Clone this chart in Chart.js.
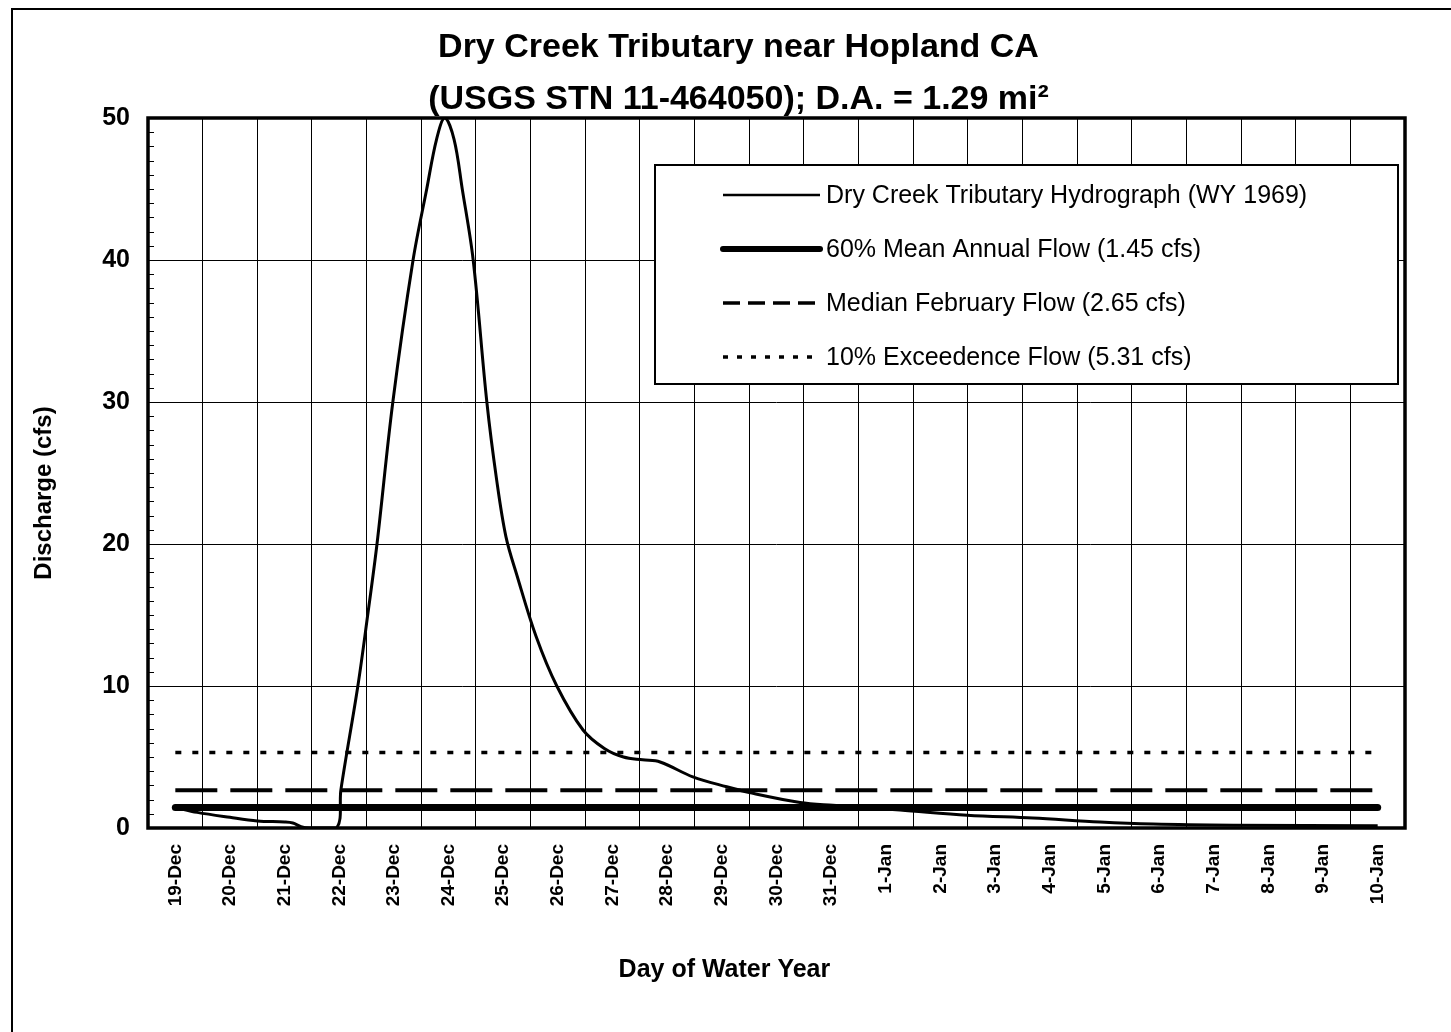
<!DOCTYPE html>
<html>
<head>
<meta charset="utf-8">
<script src="https://cdn.jsdelivr.net/npm/chart.js@4/dist/chart.umd.min.js"></script>
<style>
  html, body { margin: 0; padding: 0; background: #fff; }
  #wrap { width: 1451px; height: 1032px; }
</style>
</head>
<body>
<div id="wrap"><canvas id="chart"></canvas></div>
<script>
// day labels (one per day of the water year shown)
var dayLabels = ['19-Dec', '20-Dec', '21-Dec', '22-Dec', '23-Dec', '24-Dec', '25-Dec', '26-Dec',
    '27-Dec', '28-Dec', '29-Dec', '30-Dec', '31-Dec', '1-Jan', '2-Jan', '3-Jan', '4-Jan',
    '5-Jan', '6-Jan', '7-Jan', '8-Jan', '9-Jan', '10-Jan'];

// hydrograph, time in days from 19-Dec
var flowDay = [0, 0.4, 1.0, 1.5, 2.0, 2.15, 2.3, 2.45, 2.95, 3.03, 3.34, 3.52, 3.69, 3.98, 4.35,
    4.6, 4.78, 4.93, 5.1, 5.25, 5.45, 5.7, 5.88, 6.05, 6.25, 6.6, 6.98, 7.46, 7.85, 8.2, 8.55, 8.87,
    9.47, 10.09, 10.5, 11.43, 12.03, 13.26, 14.49, 15.69, 16.92, 17.89, 19.36, 22];
var flowCfs = [1.45, 1.1, 0.75, 0.5, 0.42, 0.35, 0.1, 0, 0, 2.7, 10, 15, 20, 30, 40,
    45, 48.5, 50, 48.5, 45, 40, 30, 24.5, 20.5, 17.8, 13.5, 10, 6.9, 5.6, 5.0, 4.8, 4.65,
    3.6, 2.9, 2.5, 1.8, 1.6, 1.27, 0.9, 0.7, 0.42, 0.28, 0.2, 0.15];

// reference flows
var refNames = ['60% Mean Annual Flow (1.45 cfs)', 'Median February Flow (2.65 cfs)', '10% Exceedence Flow (5.31 cfs)'];
var refFlows = [1.45, 2.65, 5.31];

var yTicks = [0, 10, 20, 30, 40, 50];

var FONT = "'Liberation Sans', Arial, sans-serif";
var NBSP = '\u00a0';

function flatLine(v) {
    return [{x: 0, y: v}, {x: dayLabels.length - 1, y: v}];
}

// box legend inside the plot, drawn from the datasets
var boxLegend = {
    id: 'boxLegend',
    afterDatasetsDraw: function(chart) {
        var ctx = chart.ctx, a = chart.chartArea;
        var bx = a.left + 507, by = a.top + 47, bw = 743, bh = 219;
        var dashes = [[], [], [17, 8], [5, 9]];
        ctx.save();
        ctx.fillStyle = '#fff';
        ctx.fillRect(bx, by, bw, bh);
        ctx.lineWidth = 2;
        ctx.strokeStyle = '#000';
        ctx.strokeRect(bx, by, bw, bh);
        chart.data.datasets.forEach(function(ds, i) {
            var cy = by + 30 + i * 54;
            ctx.beginPath();
            ctx.setLineDash(dashes[i]);
            ctx.lineWidth = i == 1 ? 6 : (i == 0 ? 2.5 : 3.5);
            ctx.lineCap = i == 1 ? 'round' : 'butt';
            ctx.moveTo(bx + 68, cy);
            ctx.lineTo(bx + 165, cy);
            ctx.stroke();
            ctx.setLineDash([]);
            ctx.fillStyle = '#000';
            ctx.font = '25px ' + FONT;
            ctx.textBaseline = 'middle';
            ctx.fillText(ds.label, bx + 171, cy + 1);
        });
        ctx.restore();
    }
};

// thick plot border, minor y ticks and the outer frame
var frame = {
    id: 'frame',
    afterDraw: function(chart) {
        var ctx = chart.ctx, a = chart.chartArea, y = chart.scales.y;
        ctx.save();
        ctx.strokeStyle = '#000';
        ctx.lineWidth = 1;
        for (var v = 1; v < 50; v++) {
            if (v % 10 == 0) continue;
            var py = Math.round(y.getPixelForValue(v)) + 0.5;
            ctx.beginPath();
            ctx.moveTo(a.left, py);
            ctx.lineTo(a.left + 6, py);
            ctx.stroke();
        }
        ctx.lineWidth = 3.5;
        ctx.strokeRect(a.left, a.top, a.right - a.left, a.bottom - a.top);
        ctx.lineWidth = 2;
        ctx.beginPath();
        ctx.moveTo(1451, 9);
        ctx.lineTo(12, 9);
        ctx.lineTo(12, 1032);
        ctx.stroke();
        ctx.restore();
    }
};

var ctx = document.getElementById('chart').getContext('2d');
var myChart = new Chart(ctx, {
    type: 'line',
    data: {
        datasets: [{
            label: 'Dry Creek Tributary Hydrograph (WY 1969)',
            data: flowDay.map(function(d, i) { return {x: d, y: flowCfs[i]}; }),
            borderColor: '#000',
            borderWidth: 3,
            tension: 0.35,
            pointRadius: 0
        }, {
            label: refNames[0],
            data: flatLine(refFlows[0]),
            borderColor: '#000',
            borderWidth: 7,
            borderCapStyle: 'round',
            pointRadius: 0
        }, {
            label: refNames[1],
            data: flatLine(refFlows[1]),
            borderColor: '#000',
            borderWidth: 4,
            borderDash: [42, 13],
            pointRadius: 0
        }, {
            label: refNames[2],
            data: flatLine(refFlows[2]),
            borderColor: '#000',
            borderWidth: 3.5,
            borderDash: [6, 11],
            pointRadius: 0
        }]
    },
    options: {
        responsive: true,
        maintainAspectRatio: false,
        animation: false,
        layout: { padding: { left: 72, right: 46, top: 0, bottom: 0 } },
        plugins: {
            legend: { display: false },
            tooltip: { enabled: false },
            title: {
                display: true,
                text: ['Dry Creek Tributary near Hopland CA', '(USGS STN 11-464050); D.A. = 1.29 mi\u00b2'],
                color: '#000',
                font: { family: FONT, size: 34, weight: 'bold', lineHeight: 52 / 34 },
                padding: { top: 22, bottom: -8 }
            }
        },
        scales: {
            x: {
                type: 'linear',
                min: -0.5,
                max: dayLabels.length - 0.5,
                afterBuildTicks: function(scale) {
                    scale.ticks = dayLabels.map(function(l, i) { return {value: i}; });
                },
                afterFit: function(scale) { scale.height = 204; },
                grid: { color: '#000', lineWidth: 1, offset: true, drawTicks: false },
                border: { display: false },
                ticks: {
                    autoSkip: false,
                    minRotation: 90,
                    maxRotation: 90,
                    padding: 16,
                    color: '#000',
                    font: { family: FONT, size: 19, weight: 'bold' },
                    callback: function(value) { return dayLabels[value]; }
                },
                title: {
                    display: true,
                    text: 'Day of Water Year' + NBSP.repeat(15),
                    color: '#000',
                    font: { family: FONT, size: 25, weight: 'bold' },
                    padding: { bottom: 47 }
                }
            },
            y: {
                min: 0,
                max: 50,
                afterBuildTicks: function(scale) {
                    scale.ticks = yTicks.map(function(v) { return {value: v}; });
                },
                afterFit: function(scale) { scale.width = 76; },
                grid: { color: '#000', lineWidth: 1, drawTicks: false },
                border: { display: false },
                ticks: {
                    padding: 18,
                    color: '#000',
                    font: { family: FONT, size: 25, weight: 'bold' }
                },
                title: {
                    display: true,
                    text: 'Discharge (cfs)' + NBSP.repeat(6),
                    color: '#000',
                    font: { family: FONT, size: 24, weight: 'bold' },
                    padding: { top: -42.4 }
                }
            }
        }
    },
    plugins: [boxLegend, frame]
});
</script>
</body>
</html>
